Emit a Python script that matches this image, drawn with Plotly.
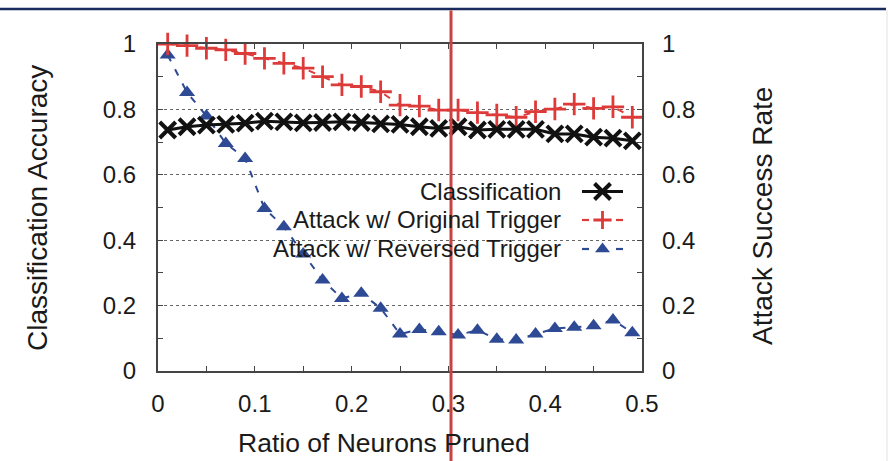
import plotly.graph_objects as go

# ---------------- data ----------------
ratio = [0.01, 0.03, 0.05, 0.07, 0.09, 0.11, 0.13, 0.15, 0.17, 0.19, 0.21, 0.23, 0.25,
         0.27, 0.29, 0.31, 0.33, 0.35, 0.37, 0.39, 0.41, 0.43, 0.45, 0.47, 0.49]
classification = [0.737, 0.747, 0.752, 0.754, 0.758, 0.764, 0.762, 0.759, 0.760, 0.762,
                  0.760, 0.756, 0.754, 0.747, 0.742, 0.747, 0.737, 0.739, 0.739, 0.739,
                  0.725, 0.725, 0.715, 0.712, 0.704]
attack_original = [1.0, 0.995, 0.987, 0.982, 0.971, 0.956, 0.941, 0.926, 0.900, 0.875,
                   0.870, 0.854, 0.813, 0.810, 0.798, 0.798, 0.790, 0.783, 0.776, 0.793,
                   0.801, 0.816, 0.803, 0.808, 0.776]
attack_reversed = [0.966, 0.852, 0.780, 0.696, 0.650, 0.497, 0.441, 0.358, 0.278, 0.222,
                   0.238, 0.192, 0.113, 0.127, 0.120, 0.110, 0.125, 0.097, 0.095, 0.113,
                   0.130, 0.134, 0.138, 0.156, 0.117]
x_ticks = [0, 0.1, 0.2, 0.3, 0.4, 0.5]
y_ticks = [0, 0.2, 0.4, 0.6, 0.8, 1.0]
series_names = ["Classification", "Attack w/ Original Trigger", "Attack w/ Reversed Trigger"]

# ---------------- styles ----------------
FONT = "Liberation Sans, Arial, Helvetica, sans-serif"
TXT = "#1a1a1a"
BLACK = "#111111"
RED = "#dd3a3a"
BLUE = "#2f4a94"
AX = "#444444"

W, H = 888, 461
L, R, T, B = 158, 246, 44, 90
PW, PH = W - L - R, H - T - B


def px(xp):
    return (xp - L) / PW


def py(yp):
    return (H - B - yp) / PH


STYLE_BLACK = dict(line=dict(color=BLACK, width=3),
                   marker=dict(symbol="x-thin", size=16, line=dict(color=BLACK, width=4)))
STYLE_RED = dict(line=dict(color=RED, width=2, dash="7px,9px"),
                 marker=dict(symbol="cross-thin", size=16, line=dict(color=RED, width=2.8)))
STYLE_BLUE = dict(line=dict(color=BLUE, width=2, dash="7px,9px"),
                  marker=dict(symbol="triangle-up", size=14, color=BLUE))

fig = go.Figure()

fig.add_trace(go.Scatter(
    x=ratio, y=attack_reversed, mode="lines+markers", name=series_names[2],
    line=STYLE_BLUE["line"], marker=STYLE_BLUE["marker"],
    cliponaxis=False, showlegend=False))
fig.add_trace(go.Scatter(
    x=ratio, y=attack_original, mode="lines+markers", name=series_names[1],
    line=STYLE_RED["line"], marker=STYLE_RED["marker"],
    cliponaxis=False, showlegend=False))
fig.add_trace(go.Scatter(
    x=ratio, y=classification, mode="lines+markers", name=series_names[0],
    line=STYLE_BLACK["line"], marker=STYLE_BLACK["marker"],
    cliponaxis=False, showlegend=False))

# ---- custom legend (text left, sample right) on a hidden helper axis ----
leg_rows = [py(191.5), py(220), py(249)]
leg_x0, leg_x1 = px(582), px(623)
leg_mid = (leg_x0 + leg_x1) / 2
seg = 7 / PW
solid_x = [leg_x0, leg_x1]
dashed_x = [leg_x0, leg_x0 + seg, None, leg_x1 - seg, leg_x1]
leg_specs = [
    (solid_x, dict(color=BLACK, width=3), STYLE_BLACK["marker"]),
    (dashed_x, dict(color=RED, width=2.2),
     dict(symbol="cross-thin", size=13, line=dict(color=RED, width=2.8))),
    (dashed_x, dict(color=BLUE, width=2.2),
     dict(symbol="triangle-up", size=13, color=BLUE)),
]
for name, yy, (lx, lline, lmarker) in zip(series_names, leg_rows, leg_specs):
    fig.add_trace(go.Scatter(x=lx, y=[yy if v is not None else None for v in lx], mode="lines",
                             line=lline, xaxis="x3", yaxis="y3", connectgaps=False,
                             showlegend=False, hoverinfo="skip", cliponaxis=False))
    fig.add_trace(go.Scatter(x=[leg_mid], y=[yy], mode="markers",
                             marker=lmarker, xaxis="x3", yaxis="y3",
                             showlegend=False, hoverinfo="skip", cliponaxis=False))
    fig.add_annotation(text=name, xref="paper", yref="paper", x=px(563), y=yy,
                       xanchor="right", yanchor="middle", showarrow=False,
                       font=dict(family=FONT, size=24, color=TXT))

tickfont = dict(family=FONT, size=24, color=TXT)

fig.update_layout(
    width=W, height=H,
    margin=dict(l=L, r=R, t=T, b=B, pad=0),
    paper_bgcolor="white", plot_bgcolor="white",
    showlegend=False,
    xaxis=dict(range=[0, 0.5], tickvals=x_ticks, ticktext=["0", "0.1", "0.2", "0.3", "0.4", "0.5"],
               ticks="inside", ticklen=5, tickwidth=1, tickcolor=AX,
               showline=True, linecolor=AX, linewidth=2, mirror="ticks",
               minor=dict(dtick=0.05, ticks="inside", ticklen=5, tickcolor=AX, showgrid=False),
               showgrid=False, zeroline=False, tickfont=tickfont, ticklabelstandoff=10),
    yaxis=dict(range=[0, 1], tickvals=y_ticks, ticktext=["0", "0.2", "0.4", "0.6", "0.8", "1"],
               ticks="inside", ticklen=5, tickwidth=1, tickcolor=AX,
               showline=True, linecolor=AX, linewidth=2, mirror="ticks",
               minor=dict(dtick=0.1, ticks="inside", ticklen=5, tickcolor=AX, showgrid=False),
               showgrid=True, gridcolor="#666666", gridwidth=1, griddash="dot",
               zeroline=False, tickfont=tickfont, ticklabelstandoff=15),
    yaxis2=dict(range=[0, 1], overlaying="y", side="right", anchor="x",
                tickvals=y_ticks, ticktext=["0", "0.2", "0.4", "0.6", "0.8", "1"],
                ticks="inside", ticklen=5, tickcolor=AX, showline=False,
                showgrid=False, zeroline=False, tickfont=tickfont, ticklabelstandoff=19),
    xaxis3=dict(range=[0, 1], overlaying="x", visible=False, fixedrange=True),
    yaxis3=dict(range=[0, 1], overlaying="y", visible=False, fixedrange=True),
)

# dummy trace to show the right y axis
fig.add_trace(go.Scatter(x=[None], y=[None], yaxis="y2", showlegend=False))

# axis titles
fig.add_annotation(text="Classification Accuracy", xref="paper", yref="paper",
                   x=px(38), y=py(208), textangle=-90, showarrow=False,
                   xanchor="center", yanchor="middle",
                   font=dict(family=FONT, size=28, color=TXT))
fig.add_annotation(text="Attack Success Rate", xref="paper", yref="paper",
                   x=px(762), y=py(216), textangle=-90, showarrow=False,
                   xanchor="center", yanchor="middle",
                   font=dict(family=FONT, size=28, color=TXT))
fig.add_annotation(text="Ratio of Neurons Pruned", xref="paper", yref="paper",
                   x=px(384), y=py(443), showarrow=False,
                   xanchor="center", yanchor="middle",
                   font=dict(family=FONT, size=26.5, color=TXT))

# page decorations: navy top rule, red vertical marker, faint right border
fig.add_shape(type="line", xref="paper", yref="paper", x0=px(0), x1=px(886), y0=py(9), y1=py(9),
              line=dict(color="#1b2b5e", width=2.5), layer="above")
fig.add_shape(type="line", xref="paper", yref="paper", x0=px(451), x1=px(451), y0=py(10.5), y1=py(461),
              line=dict(color="#c8423e", width=3), layer="above")
fig.add_shape(type="line", xref="paper", yref="paper", x0=px(887), x1=px(887), y0=py(10), y1=py(461),
              line=dict(color="#e2e2e2", width=1), layer="above")

fig.write_html("out.html")
